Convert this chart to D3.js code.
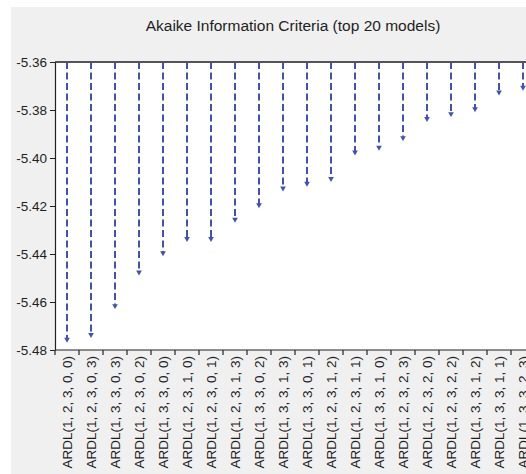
<!DOCTYPE html>
<html>
<head>
<meta charset="utf-8">
<script src="https://cdn.jsdelivr.net/npm/d3@7"></script>
<style>
  html, body { margin: 0; padding: 0; background: #fff; }
  svg { display: block; font-family: Arial, "Liberation Sans", sans-serif; }
</style>
</head>
<body>
<svg id="chart" width="526" height="474"></svg>
<script>
const models = [
  'ARDL(1, 2, 3, 0, 0)', 'ARDL(1, 2, 3, 0, 3)', 'ARDL(1, 3, 3, 0, 3)', 'ARDL(1, 2, 3, 0, 2)',
  'ARDL(1, 3, 3, 0, 0)', 'ARDL(1, 2, 3, 1, 0)', 'ARDL(1, 2, 3, 0, 1)', 'ARDL(1, 2, 3, 1, 3)',
  'ARDL(1, 3, 3, 0, 2)', 'ARDL(1, 3, 3, 1, 3)', 'ARDL(1, 3, 3, 0, 1)', 'ARDL(1, 2, 3, 1, 2)',
  'ARDL(1, 2, 3, 1, 1)', 'ARDL(1, 3, 3, 1, 0)', 'ARDL(1, 2, 3, 2, 3)', 'ARDL(1, 2, 3, 2, 0)',
  'ARDL(1, 2, 3, 2, 2)', 'ARDL(1, 3, 3, 1, 2)', 'ARDL(1, 3, 3, 1, 1)', 'ARDL(1, 3, 3, 2, 3)'
]
const aic = [
  -5.476, -5.474, -5.462, -5.448, -5.440, -5.434, -5.434, -5.426, -5.420, -5.413,
  -5.411, -5.409, -5.398, -5.396, -5.392, -5.384, -5.382, -5.380, -5.373, -5.371
]
const yTicks = [-5.36, -5.38, -5.40, -5.42, -5.44, -5.46, -5.48]

const svg = d3.select('#chart')
const chartWidth = 526
const plotLeft = 55
const plotTop = 62
const plotBottom = 350
const band = 24

const x = d3.scaleBand()
  .domain(models)
  .range([plotLeft, plotLeft + band * models.length])
  .paddingInner(0)
  .paddingOuter(0)

const y = d3.scaleLinear()
  .domain([-5.48, -5.36])
  .range([plotBottom, plotTop])

// panel background
svg.append('rect')
  .attr('x', 11).attr('y', 7)
  .attr('width', chartWidth - 11).attr('height', 474 - 7)
  .attr('fill', '#f0f0f0')

svg.append('rect')
  .attr('x', plotLeft).attr('y', plotTop)
  .attr('width', chartWidth - plotLeft).attr('height', plotBottom - plotTop)
  .attr('fill', '#fff')

svg.append('text')
  .attr('x', 293)
  .attr('y', 31)
  .attr('text-anchor', 'middle')
  .attr('font-size', 15.5)
  .attr('fill', '#1e1e1e')
  .text('Akaike Information Criteria (top 20 models)')

// stems
const stems = svg.append('g')
  .selectAll('g')
  .data(models.map((m, i) => ({ model: m, value: aic[i] })))
  .join('g')

stems.append('line')
  .attr('x1', d => x(d.model) + x.bandwidth() / 2)
  .attr('x2', d => x(d.model) + x.bandwidth() / 2)
  .attr('y1', y(-5.36))
  .attr('y2', d => y(d.value) - 2)
  .attr('stroke', '#4052b8')
  .attr('stroke-width', 2)
  .attr('stroke-dasharray', '7,3.5')

stems.append('path')
  .attr('d', d3.symbol(d3.symbolTriangle, 14))
  .attr('transform', d => `translate(${x(d.model) + x.bandwidth() / 2},${y(d.value) - 1}) rotate(180)`)
  .attr('fill', '#4052b8')

// frame
svg.append('line')
  .attr('x1', plotLeft).attr('x2', chartWidth)
  .attr('y1', plotTop).attr('y2', plotTop)
  .attr('stroke', '#555').attr('stroke-width', 2)

const yAxis = svg.append('g')
  .attr('transform', `translate(${plotLeft},0)`)
  .call(d3.axisLeft(y).tickValues(yTicks).tickFormat(d3.format('.2f')).tickSize(5).tickSizeOuter(0))

yAxis.select('.domain').attr('stroke', '#222').attr('stroke-width', 1.2)
yAxis.selectAll('.tick line').attr('stroke', '#222')
yAxis.selectAll('.tick text')
  .attr('font-size', 13.5)
  .attr('fill', '#1e1e1e')
  .attr('font-family', 'Arial, "Liberation Sans", sans-serif')
  .attr('x', -8)
  .text(d => d3.format('.2f')(d).replace('−', '-'))

svg.append('line')
  .attr('x1', plotLeft).attr('x2', chartWidth)
  .attr('y1', plotBottom).attr('y2', plotBottom)
  .attr('stroke', '#222').attr('stroke-width', 1.2)

const edges = models.map(m => x(m)).concat([x.range()[1]])
svg.append('g')
  .selectAll('line')
  .data(edges)
  .join('line')
  .attr('x1', d => d).attr('x2', d => d)
  .attr('y1', plotBottom).attr('y2', plotBottom + 5)
  .attr('stroke', '#222').attr('stroke-width', 1.2)

svg.append('g')
  .selectAll('text')
  .data(models)
  .join('text')
  .attr('transform', d => `translate(${x(d) + x.bandwidth() / 2},${plotBottom + 6}) rotate(-90)`)
  .attr('dy', '0.36em')
  .attr('text-anchor', 'end')
  .attr('font-size', 13.5)
  .attr('fill', '#1e1e1e')
  .text(d => d)
</script>
</body>
</html>
